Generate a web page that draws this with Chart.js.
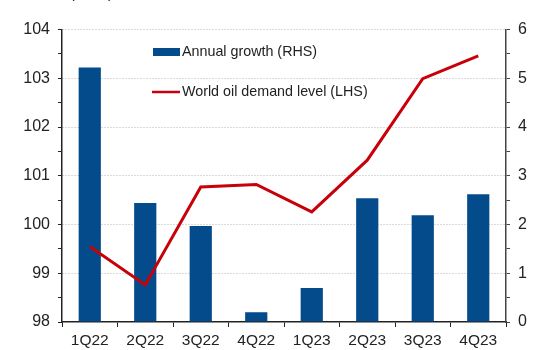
<!DOCTYPE html>
<html>
<head>
<meta charset="utf-8">
<script src="https://cdn.jsdelivr.net/npm/chart.js@4"></script>
<style>
  html, body { margin: 0; padding: 0; background: #fff; }
  #wrap { width: 544px; height: 350px; position: relative; }
</style>
</head>
<body>
<div id="wrap"><canvas id="oilChart"></canvas></div>
<script>
const quarters = ["1Q22", "2Q22", "3Q22", "4Q22", "1Q23", "2Q23", "3Q23", "4Q23"];
const annualGrowth = [5.22, 2.44, 1.97, 0.2, 0.7, 2.54, 2.19, 2.62];
const demandLevel = [99.55, 98.76, 100.77, 100.82, 100.26, 101.32, 102.99, 103.46];
const leftTicks = [98, 99, 100, 101, 102, 103, 104];
const rightTicks = [0, 1, 2, 3, 4, 5, 6];

const FONT = "'Liberation Sans', Arial, sans-serif";
const BLUE = "#034b8b";
const RED = "#c8000a";

// legend drawn inside the plot + clipped unit label at the top
const extras = {
  id: "extras",
  afterDraw(chart) {
    const ctx = chart.ctx;
    ctx.save();
    ctx.fillStyle = "#222";
    ctx.font = "15px " + FONT;
    ctx.textAlign = "right";
    ctx.textBaseline = "alphabetic";
    ctx.fillText("(mb/d)", 113, -2);

    const items = chart.data.datasets;
    ctx.font = "14.3px " + FONT;
    ctx.textAlign = "left";
    ctx.textBaseline = "middle";
    // bars entry
    ctx.fillStyle = items[1].backgroundColor;
    ctx.fillRect(153, 48, 27, 8);
    ctx.fillStyle = "#222";
    ctx.fillText(items[1].label, 182, 52);
    // line entry
    ctx.strokeStyle = items[0].borderColor;
    ctx.lineWidth = 2.5;
    ctx.beginPath();
    ctx.moveTo(152, 92);
    ctx.lineTo(180, 92);
    ctx.stroke();
    ctx.fillText(items[0].label, 182, 92);
    ctx.restore();
  }
};

new Chart(document.getElementById("oilChart"), {
  data: {
    labels: quarters,
    datasets: [
      {
        type: "line",
        label: "World oil demand level (LHS)",
        data: demandLevel,
        yAxisID: "y",
        borderColor: RED,
        borderWidth: 3,
        pointRadius: 0,
        tension: 0,
        order: 0
      },
      {
        type: "bar",
        label: "Annual growth (RHS)",
        data: annualGrowth,
        yAxisID: "y1",
        backgroundColor: BLUE,
        barPercentage: 0.4,
        categoryPercentage: 1,
        order: 1
      }
    ]
  },
  options: {
    responsive: true,
    maintainAspectRatio: false,
    animation: false,
    layout: { padding: { top: 29.5, left: 0, right: 0, bottom: 0 } },
    plugins: { legend: { display: false }, tooltip: { enabled: false } },
    scales: {
      x: {
        offset: true,
        grid: { offset: true, drawOnChartArea: false, drawTicks: true, tickLength: 5, tickColor: "#222" },
        border: { color: "#222", width: 1.5 },
        ticks: { color: "#222", font: { family: FONT, size: 15.5 }, padding: 4, maxRotation: 0 },
        afterFit: s => { s.height = 28; }
      },
      y: {
        position: "left",
        min: leftTicks[0],
        max: leftTicks[leftTicks.length - 1],
        ticks: {
          stepSize: 0.5,
          color: "#222",
          font: { family: FONT, size: 16 },
          padding: 8,
          callback: v => (leftTicks.includes(v) ? v : "")
        },
        grid: {
          color: c => (leftTicks.includes(c.tick.value) && c.tick.value !== 98 ? "#b4b4b4" : "rgba(0,0,0,0)"),
          lineWidth: 1,
          tickLength: 4,
          tickColor: "#222"
        },
        border: { color: "#222", width: 1.5, dash: [1, 2] },
        afterFit: s => { s.width = 62; }
      },
      y1: {
        position: "right",
        min: rightTicks[0],
        max: rightTicks[rightTicks.length - 1],
        ticks: {
          stepSize: 0.5,
          color: "#222",
          font: { family: FONT, size: 16 },
          padding: 8,
          callback: v => (rightTicks.includes(v) ? v : "")
        },
        grid: { drawOnChartArea: false, tickLength: 4, tickColor: "#444" },
        border: { color: "#444", width: 1.5 },
        afterFit: s => { s.width = 38; }
      }
    }
  },
  plugins: [extras]
});
</script>
</body>
</html>
